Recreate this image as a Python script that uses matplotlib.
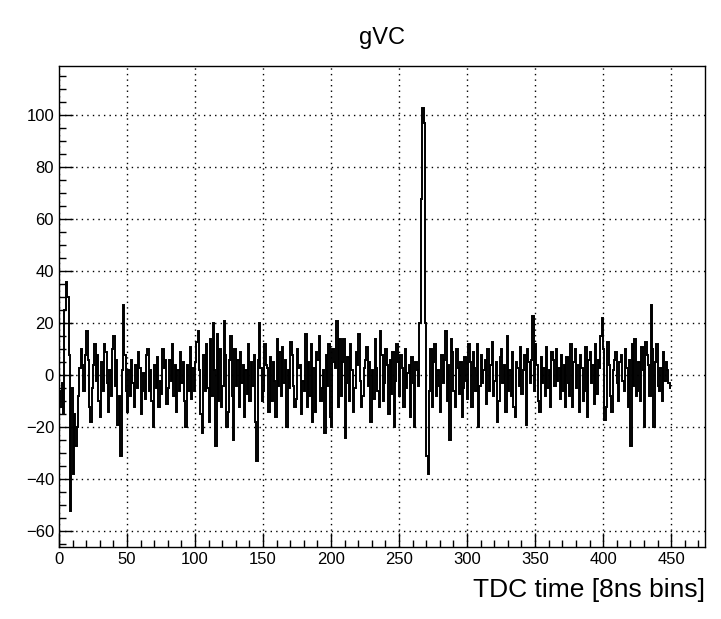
import numpy as np
import matplotlib

matplotlib.use('Agg')

from matplotlib import pyplot as plt
from matplotlib.ticker import MultipleLocator

##### Data (one value per 1-bin step) #####

bins_000 = [-6, -12, -3, -15, 25, 36, 30, 8, -52, -5, -38, -15, -27, -20, -8, 3, 10, 4, -6, 8, 17, 6, -12, -18, -5]
bins_025 = [4, 12, -2, 8, -10, -16, 5, -6, 12, 9, -3, -14, 2, -8, 10, 15, -4, 6, -19, -8, -31, 2, 27, 8, -6]
bins_050 = [-14, 2, -8, 6, -3, -12, 4, -5, 9, 3, -15, -6, 1, -9, 8, 10, -6, 2, -10, -20, 4, -5, 7, -12, -2]
bins_075 = [-7, 10, 3, 6, -11, -5, 6, -2, 12, -8, 4, -14, 2, -6, 9, -3, 5, -10, -20, 4, -6, 11, -9, 3, -6]
bins_100 = [5, 13, 17, 2, -15, -22, 8, -6, 12, -5, -18, 14, -8, 20, 2, -27, 16, -10, 10, -12, -4, 21, 8, -20, -14]
bins_125 = [6, 15, -8, -25, 10, -4, 6, -12, 9, -3, 4, -16, 2, -7, 12, -10, 5, -4, 8, -18, -33, 6, 20, 3, -10]
bins_150 = [-6, 12, 4, 3, -14, 7, -10, 5, -2, -16, 14, -4, 9, -8, 11, -3, 6, -20, 2, -5, 13, 8, -4, -12, -9]
bins_175 = [10, 3, 4, -15, -2, -6, 16, -12, 5, -8, 12, -18, 3, -14, 9, 6, 15, -10, -5, 2, -22, 8, -4, 12, -16]
bins_200 = [-20, 10, 5, 3, 21, -12, 14, -8, 5, 14, -24, -3, 7, -10, 12, 2, -14, -5, 9, 4, 16, -2, -12, -8, 3]
bins_225 = [6, 11, -4, 5, -18, 2, -9, 14, 3, -6, -12, 17, 8, -10, -3, 10, 4, -15, 6, -7, 9, -20, -2, 12, 5]
bins_250 = [-8, 8, 3, -12, 10, -5, 1, 4, -16, 7, -3, -20, 5, 2, -4, 20, 68, 103, 97, 20, -31, -38, -6, 10, -12]
bins_275 = [5, 12, -8, 2, -4, -14, 8, -3, 6, 17, -10, 4, -25, 14, 9, -6, -12, 10, 3, -7, 5, -16, -5, 7, -2]
bins_300 = [-9, 12, 5, -12, 9, 3, -6, 12, -20, -4, 8, -3, 2, 6, -11, 10, -6, 4, 13, -8, -2, 5, -18, -10, 7]
bins_325 = [10, -3, 4, -14, 15, -6, 2, -8, 9, -12, -16, 5, 3, -4, 11, -7, 2, 8, -19, 10, 5, -3, 6, 23, -6]
bins_350 = [12, 4, -10, -14, 7, -3, 3, -8, 11, -5, 2, -12, 9, 6, -4, 10, -2, 3, -9, 8, -6, 4, -12, 7, -3]
bins_375 = [-8, 12, -12, 5, 10, -5, 4, -14, 8, 3, -10, -6, 11, -16, 6, 9, -3, 4, -11, 12, -7, 6, 3, 15, 22]
bins_400 = [10, -17, -12, 13, 4, -8, -14, 2, 6, 9, -3, -10, 5, 8, -2, -6, 10, 3, -12, 6, -27, 12, -4, 14, -8]
bins_425 = [-6, 5, -10, 11, 2, -20, 13, 8, 4, -8, 27, 10, -20, 5, 12, -4, -6, 3, -10, 9, -2, 5, 2, -3, -5]

counts = (bins_000 + bins_025 + bins_050 + bins_075 + bins_100 + bins_125 +
          bins_150 + bins_175 + bins_200 + bins_225 + bins_250 + bins_275 +
          bins_300 + bins_325 + bins_350 + bins_375 + bins_400 + bins_425)
edges = np.arange(len(counts) + 1)

##### Plot #####

plt.rcParams['font.family'] = ['Liberation Sans', 'DejaVu Sans']

fig = plt.figure(figsize=(7.21, 6.19), dpi=100)
ax = fig.add_axes([0.0818, 0.1163, 0.8962, 0.7770])

ax.stairs(counts, edges, baseline=None, color='black', linewidth=1.4)

ax.set_xlim(0, 475)
ax.set_ylim(-66, 119)

ax.xaxis.set_major_locator(MultipleLocator(50))
ax.xaxis.set_minor_locator(MultipleLocator(10))
ax.yaxis.set_major_locator(MultipleLocator(20))
ax.yaxis.set_minor_locator(MultipleLocator(5))

ax.tick_params(which='both', direction='in', top=False, right=False,
               labelsize=12, colors='black', width=1)
ax.tick_params(which='major', length=10)
ax.tick_params(which='minor', length=5)

ax.grid(True, which='major', linestyle=(0, (1, 3)), color='black', linewidth=1)

for s in ax.spines.values():
    s.set_linewidth(1)

ax.set_title('gVC', fontsize=17, pad=16)
ax.set_xlabel('TDC time [8ns bins]', fontsize=19, loc='right', labelpad=8)

plt.savefig('out.png', dpi=100)
